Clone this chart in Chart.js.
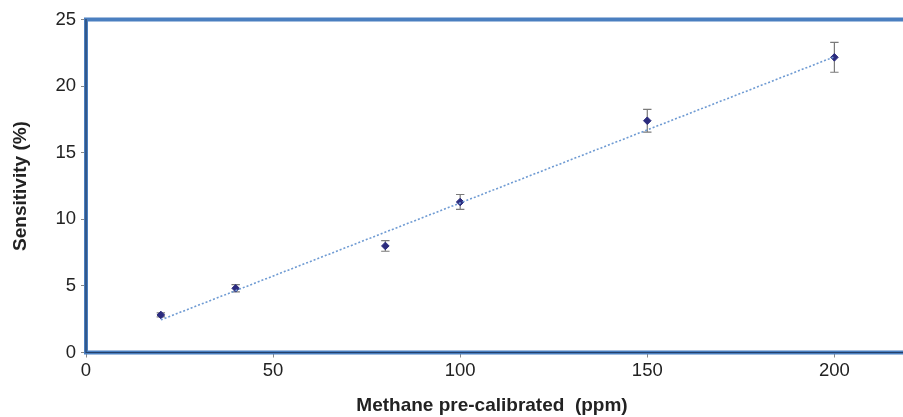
<!DOCTYPE html>
<html>
<head>
<meta charset="utf-8">
<script src="https://cdn.jsdelivr.net/npm/chart.js@4.4.1/dist/chart.umd.min.js"></script>
<style>
  html, body { margin: 0; padding: 0; background: #fff; }
  #wrap { width: 903px; height: 417px; }
</style>
</head>
<body>
<div id="wrap"><canvas id="chart"></canvas></div>
<script>
// datos
const concentrations = [20, 40, 80, 100, 150, 200];
const sensitivity    = [2.82, 4.82, 8.0, 11.3, 17.4, 22.16];
const errors         = [0.15, 0.27, 0.4, 0.56, 0.85, 1.12];
const trendX         = [20, 200];
const trendY         = [2.45, 22.2];
const xTicks         = [0, 50, 100, 150, 200];
const yTicks         = [0, 5, 10, 15, 20, 25];

const FONT = "'Liberation Sans', Arial, sans-serif";

// barras de error
const errorBars = {
  id: "errorBars",
  beforeDatasetsDraw(chart) {
    const { ctx, scales: { x, y } } = chart;
    ctx.save();
    ctx.strokeStyle = "#7a7a7a";
    ctx.lineWidth = 1.2;
    concentrations.forEach((c, i) => {
      const px = x.getPixelForValue(c);
      const top = y.getPixelForValue(sensitivity[i] + errors[i]);
      const bot = y.getPixelForValue(sensitivity[i] - errors[i]);
      ctx.beginPath();
      ctx.moveTo(px, top); ctx.lineTo(px, bot);
      ctx.moveTo(px - 4.2, top); ctx.lineTo(px + 4.2, top);
      ctx.moveTo(px - 4.2, bot); ctx.lineTo(px + 4.2, bot);
      ctx.stroke();
    });
    ctx.restore();
  }
};

// marco azul (izquierda, abajo, arriba)
const frame = {
  id: "frame",
  afterDraw(chart) {
    const { ctx, chartArea: a } = chart;
    ctx.save();
    ctx.lineCap = "square";
    ctx.strokeStyle = "#4a7fc0";
    ctx.lineWidth = 4;
    ctx.beginPath();
    ctx.moveTo(a.left, a.top); ctx.lineTo(903, a.top);
    ctx.moveTo(a.left, a.top); ctx.lineTo(a.left, a.bottom);
    ctx.lineTo(903, a.bottom);
    ctx.stroke();
    ctx.strokeStyle = "#24406a";
    ctx.lineWidth = 1.2;
    ctx.beginPath();
    ctx.moveTo(a.left, a.top); ctx.lineTo(a.left, a.bottom);
    ctx.lineTo(903, a.bottom);
    ctx.stroke();
    ctx.restore();
  }
};

new Chart(document.getElementById("chart"), {
  type: "scatter",
  data: {
    datasets: [
      {
        data: trendX.map((v, i) => ({ x: v, y: trendY[i] })),
        showLine: true,
        borderColor: "#6f9bd3",
        borderWidth: 1.6,
        borderDash: [2, 2],
        pointRadius: 0
      },
      {
        data: concentrations.map((v, i) => ({ x: v, y: sensitivity[i] })),
        pointStyle: "rectRot",
        pointRadius: 3.8,
        backgroundColor: "#2b2b7e",
        borderColor: "#2b2b7e"
      }
    ]
  },
  options: {
    responsive: true,
    maintainAspectRatio: false,
    animation: false,
    layout: { padding: { top: 19.5, right: 0, left: 0, bottom: 0 } },
    plugins: { legend: { display: false }, tooltip: { enabled: false } },
    scales: {
      x: {
        type: "linear",
        min: 0,
        max: 217,
        afterBuildTicks: s => { s.ticks = xTicks.map(v => ({ value: v })); },
        afterFit: s => { s.height = 64.5; },
        ticks: { color: "#222", font: { family: FONT, size: 18.5 }, padding: 2 },
        grid: { display: true, drawOnChartArea: false, drawTicks: true, tickLength: 5, color: "#888" },
        border: { display: false },
        title: {
          display: true,
          text: "Methane pre-calibrated  (ppm)",
          color: "#222",
          font: { family: FONT, size: 19, weight: "bold" },
          padding: { top: 2, bottom: 0 }
        }
      },
      y: {
        min: 0,
        max: 25,
        afterBuildTicks: s => { s.ticks = yTicks.map(v => ({ value: v })); },
        afterFit: s => { s.width = 86; },
        ticks: { color: "#222", font: { family: FONT, size: 18.5 }, padding: 5 },
        grid: { display: true, drawOnChartArea: false, drawTicks: true, tickLength: 5, color: "#888" },
        border: { display: false },
        title: {
          display: true,
          text: "Sensitivity (%)",
          color: "#222",
          font: { family: FONT, size: 19, weight: "bold" },
          padding: { top: 9, bottom: 0 }
        }
      }
    }
  },
  plugins: [errorBars, frame]
});
</script>
</body>
</html>
